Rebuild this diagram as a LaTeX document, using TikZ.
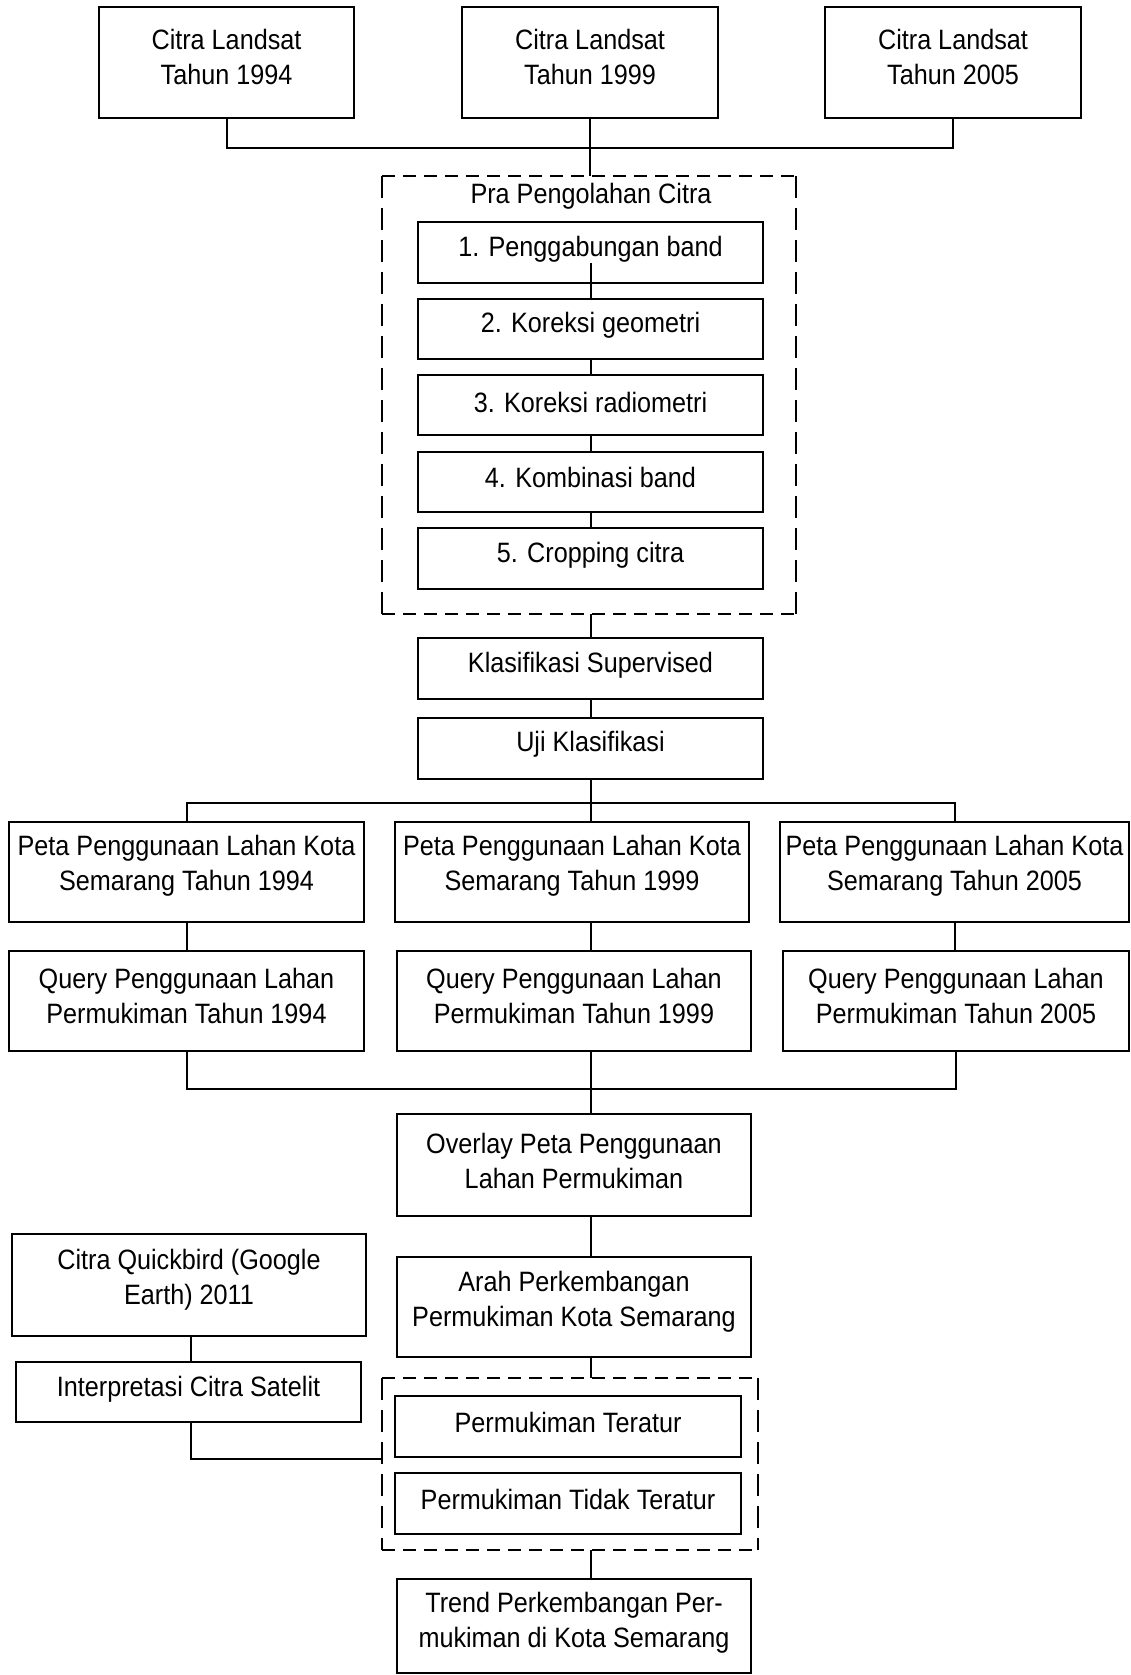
\documentclass[tikz,border=0pt]{standalone}
\usepackage{fontspec}
\setmainfont{Liberation Sans}[FakeStretch=0.9]
\usetikzlibrary{fit,calc}
\tikzset{
 boxst/.style={draw, line width=2.2pt, inner sep=0pt, outer sep=0pt},
 dbox/.style={inner sep=0pt, outer sep=0pt},
 txt/.style={align=center, inner sep=0pt, font=\fontsize{28}{35}\selectfont},
 conn/.style={line width=2pt},
 dh/.style={line width=2.4pt, dash pattern=on 13pt off 8pt},
 dv/.style={line width=2.4pt, dash pattern=on 22pt off 10pt},
}
\newcommand{\bx}[7]{%
 \node[boxst, fit={(#2,#3) (#4,#5)}] (#1) {};
 \node[txt] (#1t) at ({(#2+#4)/2},#7) {#6};}
\newcommand{\dashedframe}[1]{%
 \draw[dh] (#1.north west) -- (#1.north east);
 \draw[dh] (#1.south west) -- (#1.south east);
 \draw[dv] (#1.north west) -- (#1.south west);
 \draw[dv] (#1.north east) -- (#1.south east);}
\begin{document}
\begin{tikzpicture}[x=1pt,y=-1pt]
\useasboundingbox (0,0) rectangle (1131,1675);
% top images
\bx{c1}{99}{7}{354}{118}{Citra Landsat\\Tahun 1994}{57}
\bx{c2}{462}{7}{718}{118}{Citra Landsat\\Tahun 1999}{57}
\bx{c3}{825}{7}{1081}{118}{Citra Landsat\\Tahun 2005}{57}
% preprocessing
\node[dbox, fit={(382,176) (796,614)}] (pre) {};
\dashedframe{pre}
\node[txt] (pret) at (591,196) {Pra Pengolahan Citra};
\bx{i1}{418}{222}{763}{283}{1. Penggabungan band}{249}
\bx{i2}{418}{299}{763}{359}{2. Koreksi geometri}{325}
\bx{i3}{418}{375}{763}{435}{3. Koreksi radiometri}{402}
\bx{i4}{418}{452}{763}{512}{4. Kombinasi band}{477}
\bx{i5}{418}{528}{763}{589}{5. Cropping citra}{555}
\bx{kl}{418}{638}{763}{699}{Klasifikasi Supervised}{665}
\bx{uj}{418}{718}{763}{779}{Uji Klasifikasi}{744}
% maps
\bx{p1}{9}{822}{364}{922}{Peta Penggunaan Lahan Kota\\Semarang Tahun 1994}{866}
\bx{p2}{395}{822}{749}{922}{Peta Penggunaan Lahan Kota\\Semarang Tahun 1999}{866}
\bx{p3}{780}{822}{1129}{922}{Peta Penggunaan Lahan Kota\\Semarang Tahun 2005}{866}
\bx{q1}{9}{951}{364}{1051}{Query Penggunaan Lahan\\Permukiman Tahun 1994}{996}
\bx{q2}{397}{951}{751}{1051}{Query Penggunaan Lahan\\Permukiman Tahun 1999}{996}
\bx{q3}{783}{951}{1129}{1051}{Query Penggunaan Lahan\\Permukiman Tahun 2005}{996}
\bx{ov}{397}{1114}{751}{1216}{Overlay Peta Penggunaan\\Lahan Permukiman}{1161}
\bx{qb}{12}{1234}{366}{1336}{Citra Quickbird (Google\\Earth) 2011}{1280}
\bx{ar}{397}{1257}{751}{1357}{Arah Perkembangan\\Permukiman Kota Semarang}{1302}
\bx{it}{16}{1362}{361}{1422}{Interpretasi Citra Satelit}{1389}
\node[dbox, fit={(382,1378) (758,1550)}] (pm) {};
\dashedframe{pm}
\bx{t1}{395}{1396}{741}{1457}{Permukiman Teratur}{1422}
\bx{t2}{395}{1473}{741}{1534}{Permukiman Tidak Teratur}{1499}
\bx{tr}{397}{1579}{751}{1673}{Trend Perkembangan Per-\\mukiman di Kota Semarang}{1623}
% connectors
\coordinate (ax) at (591,0);
\coordinate (tb) at (590,148);
\draw[conn] (c1.south) -- (c1.south |- tb) -- (c3.south |- tb) -- (c3.south);
\draw[conn] (c2.south) -- (c2.south |- pre.north);
\draw[conn] ($(ax |- i1.south)+(0,-20)$) -- (ax |- i2.north);
\draw[conn] (ax |- i2.south) -- (ax |- i3.north);
\draw[conn] (ax |- i3.south) -- (ax |- i4.north);
\draw[conn] (ax |- i4.south) -- (ax |- i5.north);
\draw[conn] (ax |- pre.south) -- (ax |- kl.north);
\draw[conn] (ax |- kl.south) -- (ax |- uj.north);
\coordinate (mb) at (591,803);
\draw[conn] (ax |- uj.south) -- (ax |- p2.north);
\draw[conn] (p1.north) -- (p1.north |- mb) -- (p3.north |- mb) -- (p3.north);
\draw[conn] (p1.south) -- (q1.north);
\draw[conn] (ax |- p2.south) -- (ax |- q2.north);
\draw[conn] (p3.south) -- (p3.south |- q3.north);
\coordinate (bb) at (591,1089);
\draw[conn] (q1.south) -- (q1.south |- bb) -- (q3.south |- bb) -- (q3.south);
\draw[conn] (ax |- q2.south) -- (ax |- ov.north);
\draw[conn] (ax |- ov.south) -- (ax |- ar.north);
\draw[conn] (ax |- ar.south) -- (ax |- pm.north);
\coordinate (qx) at (191,0);
\draw[conn] (qx |- qb.south) -- (qx |- it.north);
\coordinate (lj) at (191,1459);
\draw[conn, line cap=round] (qx |- it.south) -- (lj) -- (lj -| pm.west);
\draw[conn] (ax |- pm.south) -- (ax |- tr.north);
\end{tikzpicture}
\end{document}
